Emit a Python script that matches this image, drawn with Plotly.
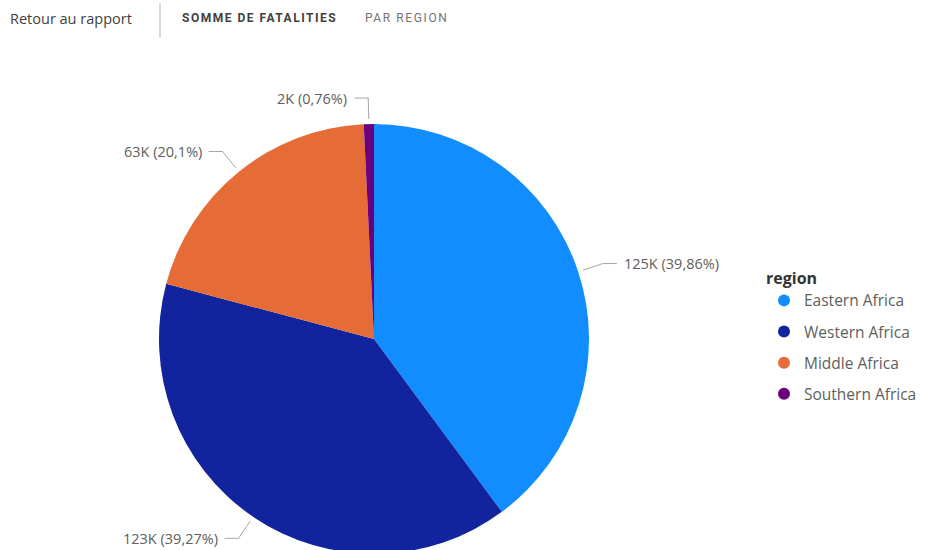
import math
import plotly.graph_objects as go

# ---- data ----
regions = ["Eastern Africa", "Western Africa", "Middle Africa", "Southern Africa"]
fatalities = [125000, 123150, 63040, 2385]
colors = ["#118DFF", "#12239E", "#E66C37", "#6B007B"]
legend_title = "region"
header_back = "Retour au rapport"
header_title = "SOMME DE FATALITIES"
header_sub = "PAR REGION"

# ---- geometry (pixels) ----
W, H = 925, 560
cx, cy, R = 374.0, 339.0, 215.0
GAP = 5.0
ELBOW = 26.0
HSEG = 14.0

def px(x):
    return x / W

def py(y):
    return 1 - y / H

total = sum(fatalities)

def fmt_label(v):
    pct = 100.0 * v / total
    s = f"{pct:.2f}".rstrip("0").rstrip(".").replace(".", ",")
    return f"{round(v / 1000)}K ({s}%)"

fig = go.Figure()

fig.add_trace(go.Pie(
    labels=regions,
    values=fatalities,
    sort=False,
    direction="clockwise",
    rotation=0,
    marker=dict(colors=colors, line=dict(width=0)),
    textinfo="none",
    hoverinfo="label+value+percent",
    showlegend=False,
    domain=dict(x=[px(cx - R), px(cx + R)], y=[py(cy + R), py(cy - R)]),
))

# legend entries with circle markers
for name, col in zip(regions, colors):
    fig.add_trace(go.Scatter(
        x=[None], y=[None], mode="markers", name=name, legendgroup=name,
        marker=dict(color=col, size=12, symbol="circle"),
    ))

# leader lines and labels computed from the data
shapes = []
annotations = []
cum = 0.0
for v in fatalities:
    frac = v / total
    theta = 2 * math.pi * (cum + frac / 2)
    cum += frac
    s, c = math.sin(theta), math.cos(theta)
    x0, y0 = cx + (R + GAP) * s, cy - (R + GAP) * c
    x1, y1 = cx + (R + ELBOW) * s, cy - (R + ELBOW) * c
    d = 1 if s >= 0 else -1
    x2 = x1 + d * HSEG
    shapes.append(dict(
        type="path", xref="paper", yref="paper",
        path=f"M {px(x0)},{py(y0)} L {px(x1)},{py(y1)} L {px(x2)},{py(y1)}",
        line=dict(color="#A6A6A6", width=1),
    ))
    annotations.append(dict(
        x=px(x2 + d * 5), y=py(y1), xref="paper", yref="paper",
        text=fmt_label(v), showarrow=False,
        xanchor="left" if d > 0 else "right", yanchor="middle",
        font=dict(family="Open Sans", size=14.5, color="#605E5C"),
    ))

# header
shapes.append(dict(type="line", xref="paper", yref="paper",
                   x0=px(160), x1=px(160), y0=py(3), y1=py(38),
                   line=dict(color="#B3B3B3", width=1)))
annotations.append(dict(x=px(8), y=py(18), xref="paper", yref="paper",
                        text=header_back, showarrow=False, xanchor="left", yanchor="middle",
                        font=dict(family="Open Sans", size=14.5, color="#404040")))
annotations.append(dict(x=px(180), y=py(18), xref="paper", yref="paper",
                        text=f"<span style='letter-spacing:1.5px'><b>{header_title}</b></span>",
                        showarrow=False, xanchor="left", yanchor="middle",
                        font=dict(family="Roboto", size=12, color="#404040")))
annotations.append(dict(x=px(363), y=py(18), xref="paper", yref="paper",
                        text=f"<span style='letter-spacing:1.6px'>{header_sub}</span>",
                        showarrow=False, xanchor="left", yanchor="middle",
                        font=dict(family="Roboto", size=12, color="#737373")))

fig.update_layout(
    width=W, height=H,
    margin=dict(l=0, r=0, t=0, b=0, autoexpand=False),
    paper_bgcolor="white", plot_bgcolor="white",
    xaxis=dict(visible=False), yaxis=dict(visible=False),
    shapes=shapes, annotations=annotations,
    legend=dict(
        x=px(764), y=py(263), xanchor="left", yanchor="top",
        title=dict(text=f"<b>{legend_title}</b>", font=dict(family="Open Sans", size=16, color="#333333")),
        font=dict(family="Open Sans", size=15.5, color="#605E5C"),
        tracegroupgap=8, itemclick=False, itemdoubleclick=False,
    ),
    font=dict(family="Open Sans"),
)

fig.write_html(
    "out.html",
    config={"displayModeBar": False},
    post_script="document.body.style.margin='0';document.body.style.overflow='hidden';document.documentElement.style.overflow='hidden';",
)
